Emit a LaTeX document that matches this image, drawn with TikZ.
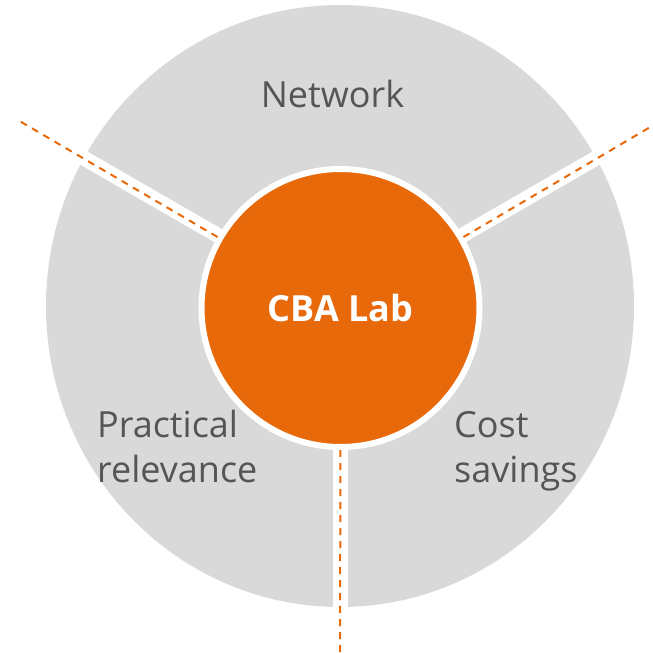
\documentclass[tikz,border=0pt]{standalone}
\usepackage{fontspec}
\setmainfont{Open Sans}
\usepackage{xcolor}
\usepackage{tikz}
\usetikzlibrary{calc}
\definecolor{cbaorange}{HTML}{E8690A}
\definecolor{cbagray}{HTML}{D9D9D9}
\definecolor{cbatext}{HTML}{555555}

\begin{document}
\begin{tikzpicture}[x=1pt,y=1pt,
  band/.style={color=white, line width=15pt},
  cut/.style={color=cbaorange, line width=2pt, dash pattern=on 7pt off 6pt},
  field/.style={color=cbatext, font=\fontsize{36}{45}\selectfont, align=left, inner sep=0pt}]
\useasboundingbox (-340,-347) rectangle (313,306);
\fill [color=cbagray] (0,0) ellipse [x radius=294pt, y radius=301pt];
\coordinate (hub) at (0,0);
\coordinate (nw) at (150:374);
\coordinate (ne) at (30:374);
\coordinate (s) at (270:346);
% white gaps between the three fields
\draw [band] (hub) -- (nw);
\draw [band] (hub) -- (ne);
\draw [band] (hub) -- (s);
\node [circle, fill=cbaorange, draw=white, line width=6pt, minimum size=278pt, inner sep=0pt,
  text=white, font=\fontsize{36}{45}\selectfont\bfseries] (lab) at (0.5,-2) {CBA Lab};
\draw [cut] (lab.150) -- (nw);
\draw [cut] (lab.30) -- (ne);
\draw [cut] (lab.270) -- (s);
\node [field, anchor=base] (network) at (-7.5,198) {Network};
\node [field, anchor=base west] (practical) at (-243,-176) {Practical\\relevance};
\node [field, anchor=base west] (cost) at (114,-176) {Cost\\savings};
\end{tikzpicture}
\end{document}
